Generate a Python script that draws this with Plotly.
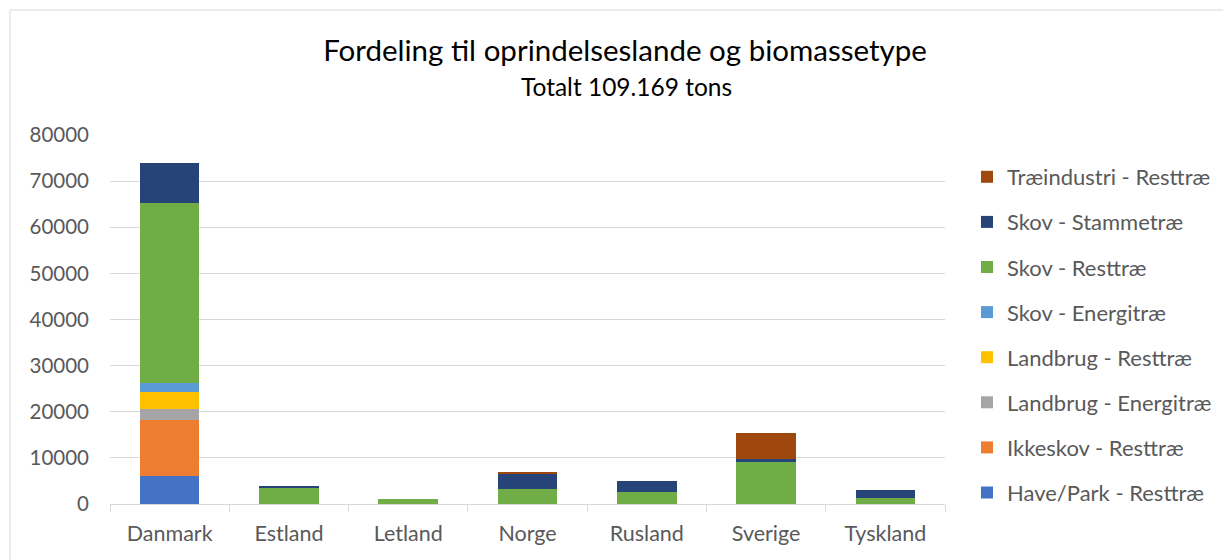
import plotly.graph_objects as go

countries = ["Danmark", "Estland", "Letland", "Norge", "Rusland", "Sverige", "Tyskland"]

series_names = [
    "Have/Park - Resttræ",
    "Ikkeskov - Resttræ",
    "Landbrug - Energitræ",
    "Landbrug - Resttræ",
    "Skov - Energitræ",
    "Skov - Resttræ",
    "Skov - Stammetræ",
    "Træindustri - Resttræ",
]

have_park_rest = [6100, 0, 0, 0, 0, 0, 0]
ikkeskov_rest = [12100, 0, 0, 0, 0, 0, 0]
landbrug_energi = [2400, 0, 0, 0, 0, 0, 0]
landbrug_rest = [3700, 0, 0, 0, 0, 0, 0]
skov_energi = [1900, 0, 0, 0, 0, 0, 0]
skov_rest = [39000, 3500, 1000, 3250, 2700, 9000, 1200]
skov_stamme = [8700, 350, 0, 3200, 2300, 850, 1900]
traeindustri_rest = [0, 0, 0, 500, 0, 5600, 0]

series_values = [have_park_rest, ikkeskov_rest, landbrug_energi, landbrug_rest,
                 skov_energi, skov_rest, skov_stamme, traeindustri_rest]

colors = ["#4472C4", "#ED7D31", "#A5A5A5", "#FFC000",
          "#5B9BD5", "#70AD47", "#264478", "#9E480E"]

y_ticks = [0, 10000, 20000, 30000, 40000, 50000, 60000, 70000, 80000]

title_text = "Fordeling til oprindelseslande og biomassetype"
subtitle_text = "Totalt 109.169 tons"

FONT = "Lato"
GRAY = "#595959"
GRID = "#d9d9d9"
OFF = 8  # page body margin

fig = go.Figure()
for i, (name, vals, col) in enumerate(zip(series_names, series_values, colors)):
    fig.add_trace(go.Bar(
        x=countries, y=vals, name=name,
        marker=dict(color=col, line=dict(width=0)),
        legendgroup=f"g{i}",
        legendrank=1000 - i,
    ))

W, H = 1231, 560
# page-pixel positions of the plot area
L, R, T, B = 110, 945, 135, 504
Lf, Rf, Tf, Bf = L - OFF, R - OFF, T - OFF, B - OFF
pw, ph = Rf - Lf, Bf - Tf

def px_x(x):
    return (x - OFF - Lf) / pw

def px_y(y):
    return (Bf - (y - OFF)) / ph

fig.update_layout(
    width=W, height=H,
    barmode="stack",
    bargap=0.5,
    template="none",
    paper_bgcolor="white",
    plot_bgcolor="white",
    margin=dict(l=Lf, r=W - Rf, t=Tf, b=H - Bf, pad=0),
    font=dict(family=FONT, color=GRAY, size=16),
    title=dict(
        text=title_text,
        x=(625 - OFF) / W, xanchor="center",
        y=1 - (51 - OFF) / H, yanchor="middle",
        font=dict(family=FONT, size=29.5, color="#000000"),
    ),
    legend=dict(
        traceorder="grouped",
        tracegroupgap=13.5,
        x=px_x(967), xanchor="left",
        y=px_y(156), yanchor="top",
        font=dict(family=FONT, size=22, color=GRAY),
        bgcolor="rgba(0,0,0,0)",
        itemclick=False,
        maxheight=1,
    ),
    xaxis=dict(
        type="category",
        tickson="boundaries",
        ticks="outside",
        ticklen=7,
        tickcolor=GRID,
        showline=True,
        linecolor=GRID,
        linewidth=1,
        showgrid=False,
        tickfont=dict(family=FONT, size=21.5, color=GRAY),
        ticklabelstandoff=10,
    ),
    yaxis=dict(
        range=[0, 80000],
        tickvals=y_ticks,
        tickformat="d",
        showgrid=True,
        gridcolor=GRID,
        gridwidth=1,
        zeroline=False,
        showline=False,
        ticks="",
        tickfont=dict(family=FONT, size=20.5, color=GRAY),
        ticklabelstandoff=20,
    ),
    annotations=[dict(
        text=subtitle_text,
        xref="paper", yref="paper",
        x=px_x(626), y=px_y(86),
        xanchor="center", yanchor="middle",
        showarrow=False,
        font=dict(family=FONT, size=24.5, color="#000000"),
    )],
    shapes=[dict(
        type="rect", xref="paper", yref="paper",
        x0=px_x(10), x1=px_x(1260), y0=px_y(600), y1=px_y(10),
        line=dict(color=GRID, width=1), fillcolor="rgba(0,0,0,0)",
        layer="below",
    )],
)

fig.write_html("out.html")
